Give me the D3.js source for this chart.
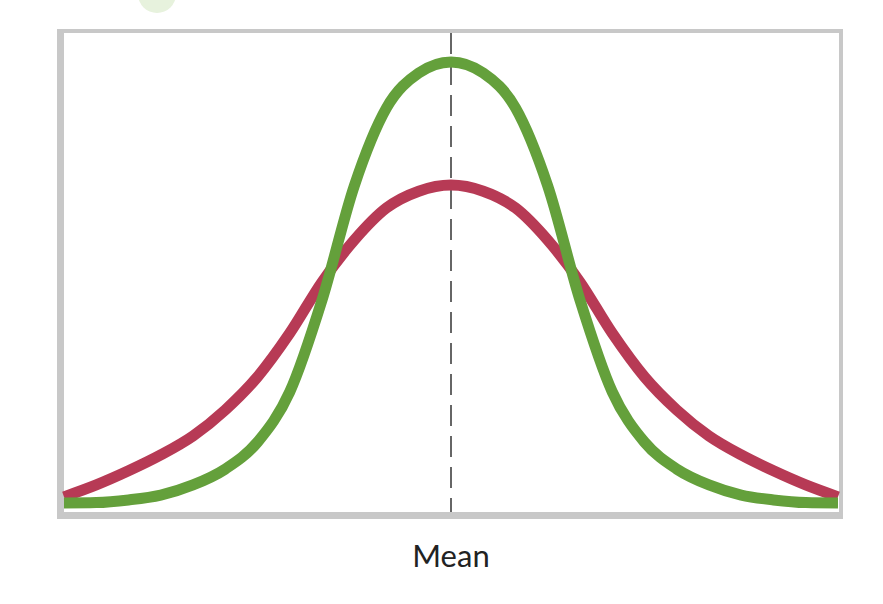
<!DOCTYPE html>
<html>
<head>
<meta charset="utf-8">
<script src="https://cdn.jsdelivr.net/npm/d3@7"></script>
<style>
  html, body { margin: 0; padding: 0; background: #ffffff; }
  svg { display: block; }
</style>
</head>
<body>
<svg id="chart" width="883" height="604"></svg>
<script>
// Positions in standard-deviation units relative to the mean
const positions = [-3, -2.75, -2.5, -2.25, -2, -1.75, -1.5, -1.25, -1, -0.75, -0.5, -0.25, 0,
                   0.25, 0.5, 0.75, 1, 1.25, 1.5, 1.75, 2, 2.25, 2.5, 2.75, 3];
// Wide distribution (red)
const wideValues = [0.014, 0.041, 0.073, 0.109, 0.152, 0.211, 0.286, 0.385, 0.501, 0.596, 0.669, 0.707, 0.721,
                    0.707, 0.669, 0.596, 0.501, 0.385, 0.286, 0.211, 0.152, 0.109, 0.073, 0.041, 0.014];
// Narrow distribution (green)
const narrowValues = [0, 0.001, 0.007, 0.018, 0.041, 0.077, 0.138, 0.252, 0.460, 0.719, 0.896, 0.975, 1.0,
                      0.975, 0.896, 0.719, 0.460, 0.252, 0.138, 0.077, 0.041, 0.018, 0.007, 0.001, 0];
const meanValue = 0;
const xLabel = "Mean";

const svg = d3.select("#chart");

// decorative light green circle at top
svg.append("circle").attr("cx", 157).attr("cy", -6).attr("r", 19).attr("fill", "#e7f2dd");

// frame with shadow-like thick left/bottom edges
svg.append("rect").attr("x", 57).attr("y", 29).attr("width", 786).attr("height", 490).attr("fill", "#c8c8c8");
svg.append("rect").attr("x", 64).attr("y", 33).attr("width", 775).attr("height", 479).attr("fill", "#ffffff");

const x = d3.scaleLinear().domain([-3, 3]).range([64, 838]);
const y = d3.scaleLinear().domain([0, 1]).range([503, 62]);

// mean line
svg.append("line")
  .attr("x1", x(meanValue)).attr("x2", x(meanValue))
  .attr("y1", 33).attr("y2", 512)
  .attr("stroke", "#666666").attr("stroke-width", 2)
  .attr("stroke-dasharray", "21,10");

const line = d3.line()
  .x(d => x(d[0]))
  .y(d => y(d[1]))
  .curve(d3.curveMonotoneX);

svg.append("path")
  .datum(positions.map((p, i) => [p, wideValues[i]]))
  .attr("d", line)
  .attr("fill", "none")
  .attr("stroke", "#b73a55")
  .attr("stroke-width", 11)
  .attr("stroke-linejoin", "round");

svg.append("path")
  .datum(positions.map((p, i) => [p, narrowValues[i]]))
  .attr("d", line)
  .attr("fill", "none")
  .attr("stroke", "#64a03b")
  .attr("stroke-width", 11)
  .attr("stroke-linejoin", "round");

// x label
svg.append("text")
  .attr("x", x(meanValue))
  .attr("y", 567)
  .attr("text-anchor", "middle")
  .attr("font-family", "Lato, 'Noto Sans', sans-serif")
  .attr("font-size", 31)
  .attr("fill", "#222222")
  .text(xLabel);
</script>
</body>
</html>
